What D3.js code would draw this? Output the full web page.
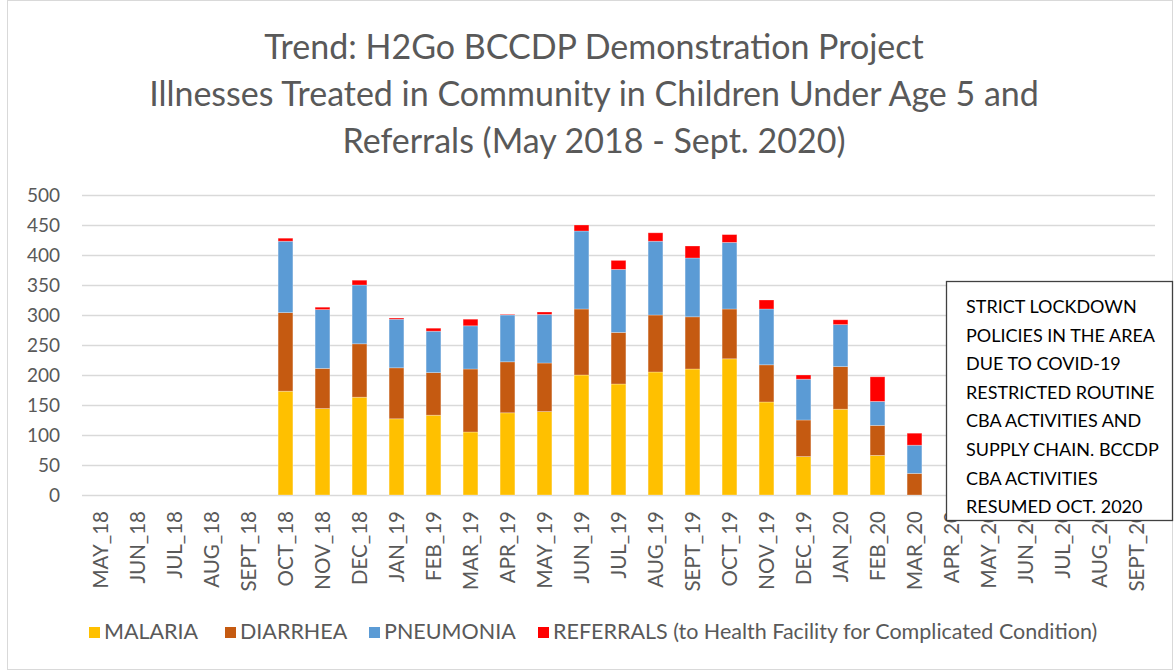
<!DOCTYPE html>
<html>
<head>
<meta charset="utf-8">
<title>H2Go BCCDP Trend</title>
<script src="https://d3js.org/d3.v7.min.js"></script>
<style>
  body { margin: 0; background: #fff; }
  svg { font-family: Lato, 'Open Sans', sans-serif; }
  .tick text { fill: #595959; }
</style>
</head>
<body>
<div id="chart"></div>
<script>
// month labels (May 2018 - Sept 2020)
const months = ["MAY_18","JUN_18","JUL_18","AUG_18","SEPT_18","OCT_18","NOV_18","DEC_18",
  "JAN_19","FEB_19","MAR_19","APR_19","MAY_19","JUN_19","JUL_19","AUG_19","SEPT_19","OCT_19",
  "NOV_19","DEC_19","JAN_20","FEB_20","MAR_20","APR_20","MAY_20","JUN_20","JUL_20","AUG_20","SEPT_20"];

const malaria   = [0,0,0,0,0,173,144,163,127,133,105,137,139,200,185,205,210,227,155,64,143,66,0,0,0,0,0,0,0];
const diarrhea  = [0,0,0,0,0,131,67,89,85,71,105,85,81,110,86,95,87,83,62,61,71,50,36,0,0,0,0,0,0];
const pneumonia = [0,0,0,0,0,119,98,98,81,69,72,78,81,130,105,123,98,111,93,68,70,40,47,0,0,0,0,0,0];
const referrals = [0,0,0,0,0,5,4,8,2,5,11,1,4,10,15,14,20,13,15,7,8,41,20,0,0,0,0,0,0];

const seriesNames = ["MALARIA","DIARRHEA","PNEUMONIA","REFERRALS (to Health Facility for Complicated Condition)"];
const colors = ["#FFC000","#C55A11","#5B9BD5","#FF0000"];
const yTicks = [0,50,100,150,200,250,300,350,400,450,500];

const titleLines = ["Trend: H2Go BCCDP Demonstration Project",
  "Illnesses Treated in Community in Children Under Age 5 and",
  "Referrals (May 2018 - Sept. 2020)"];
const noteLines = ["STRICT LOCKDOWN","POLICIES IN THE AREA","DUE TO COVID-19","RESTRICTED ROUTINE",
  "CBA ACTIVITIES AND","SUPPLY CHAIN. BCCDP","CBA ACTIVITIES","RESUMED OCT. 2020"];

const width = 1174, height = 671;
const margin = {top: 195, left: 82, right: 19, bottom: 176};

const svg = d3.select('#chart').append('svg')
  .attr('width', width).attr('height', height);

// chart border
svg.append('rect')
  .attr('x', 7.5).attr('y', 0.5).attr('width', 1165).attr('height', 669)
  .attr('fill', '#fff').attr('stroke', '#d9d9d9');

// title
svg.append('g').selectAll('text').data(titleLines).join('text')
  .attr('x', 594).attr('y', (d, i) => 59 + i * 47)
  .attr('text-anchor', 'middle')
  .style('font-size', '34px').style('fill', '#595959')
  .text(d => d);

const x = d3.scaleBand().domain(months)
  .range([margin.left, width - margin.right]).paddingInner(0.6).paddingOuter(0.3);
const y = d3.scaleLinear().domain([0, 500]).range([height - margin.bottom, margin.top]);

// gridlines
svg.append('g').selectAll('line').data(yTicks).join('line')
  .attr('x1', margin.left).attr('x2', width - margin.right)
  .attr('y1', d => Math.round(y(d)) + 0.5).attr('y2', d => Math.round(y(d)) + 0.5)
  .attr('stroke', '#d9d9d9').attr('stroke-width', 1.3);

// y axis labels
const yAxis = svg.append('g')
  .attr('transform', `translate(${margin.left - 22},0)`)
  .call(d3.axisLeft(y).tickValues(yTicks).tickSize(0).tickPadding(0));
yAxis.select('.domain').remove();
yAxis.selectAll('text').style('font-size', '19px').style('font-family', 'Lato, sans-serif');

// stacked bars
const rows = months.map((m, i) => ({month: m, s0: malaria[i], s1: diarrhea[i], s2: pneumonia[i], s3: referrals[i]}));
const stack = d3.stack().keys(["s0","s1","s2","s3"])(rows);

svg.append('g').selectAll('g').data(stack).join('g')
  .attr('fill', (d, i) => colors[i])
  .selectAll('rect').data(d => d).join('rect')
  .attr('x', d => x(d.data.month))
  .attr('width', x.bandwidth())
  .attr('y', d => y(d[1]))
  .attr('height', d => y(d[0]) - y(d[1]))
  .attr('stroke', 'rgba(255,255,255,0.35)').attr('stroke-width', 0.8);

// x axis labels (rotated)
const xAxis = svg.append('g')
  .attr('transform', `translate(0,${height - margin.bottom})`)
  .call(d3.axisBottom(x).tickSize(0).tickPadding(0));
xAxis.select('.domain').remove();
xAxis.selectAll('text')
  .attr('transform', 'rotate(-90)')
  .attr('x', -16).attr('y', 0).attr('dy', '0.35em')
  .style('text-anchor', 'end')
  .style('font-size', '20.5px').style('font-family', 'Lato, sans-serif');

// annotation box
const note = svg.append('g');
note.append('rect')
  .attr('x', 946.5).attr('y', 281.5).attr('width', 226).attr('height', 239)
  .attr('fill', '#fff').attr('stroke', '#404040').attr('stroke-width', 1.3);
note.selectAll('text').data(noteLines).join('text')
  .attr('x', 966).attr('y', (d, i) => 313 + i * 28.6)
  .style('font-size', '18px').style('fill', '#000')
  .text(d => d);

// legend
const legendX = [89, 225, 369, 538];
const legend = svg.append('g').selectAll('g').data(seriesNames).join('g')
  .attr('transform', (d, i) => `translate(${legendX[i]},627)`);
legend.append('rect').attr('width', 11).attr('height', 11)
  .attr('fill', (d, i) => colors[i]);
legend.append('text').attr('x', 15).attr('y', 12)
  .style('font-size', '21.5px').style('fill', '#595959')
  .text(d => d);
</script>
</body>
</html>
